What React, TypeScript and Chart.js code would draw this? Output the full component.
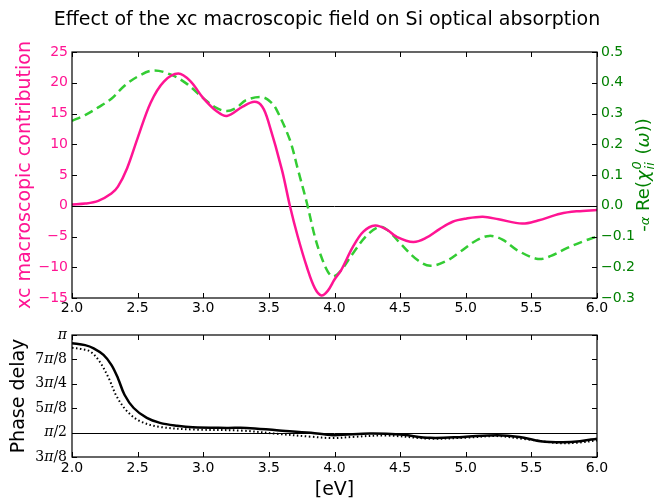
import React, { useEffect, useRef } from 'react';
import { Chart, registerables } from 'chart.js';

Chart.register(...registerables);

// ---------- data ----------
const xcEnergy = [2.0, 2.1, 2.2, 2.3, 2.35, 2.42, 2.5, 2.6, 2.7, 2.81, 2.9, 3.0, 3.1, 3.18, 3.3, 3.39, 3.45, 3.5, 3.6, 3.66, 3.72, 3.79, 3.85, 3.9, 3.95, 4.0, 4.05, 4.14, 4.22, 4.31, 4.4, 4.47, 4.6, 4.7, 4.8, 4.9, 5.0, 5.13, 5.25, 5.43, 5.55, 5.72, 5.85, 6.0];
const xcContribution = [0.2, 0.35, 0.8, 2.0, 3.1, 6.1, 11.0, 16.8, 20.2, 21.5, 20.3, 17.5, 15.4, 14.6, 16.1, 16.9, 16.1, 13.4, 5.8, 0.0, -5.0, -10.0, -13.4, -14.6, -13.8, -12.0, -10.5, -6.7, -4.2, -3.2, -3.9, -5.0, -5.9, -5.2, -3.8, -2.6, -2.1, -1.8, -2.2, -2.9, -2.4, -1.3, -0.9, -0.7];

const chiEnergy = [2.0, 2.1, 2.2, 2.3, 2.4, 2.5, 2.62, 2.75, 2.87, 3.0, 3.1, 3.18, 3.25, 3.33, 3.45, 3.52, 3.56, 3.66, 3.72, 3.79, 3.85, 3.89, 3.95, 3.99, 4.05, 4.14, 4.25, 4.35, 4.42, 4.5, 4.63, 4.73, 4.85, 4.96, 5.08, 5.18, 5.28, 5.39, 5.55, 5.65, 5.77, 5.9, 6.0];
const chiReal = [0.276, 0.295, 0.32, 0.348, 0.39, 0.42, 0.44, 0.427, 0.398, 0.35, 0.318, 0.308, 0.318, 0.344, 0.353, 0.335, 0.311, 0.214, 0.12, 0.008, -0.1, -0.155, -0.215, -0.23, -0.21, -0.155, -0.095, -0.068, -0.085, -0.122, -0.176, -0.195, -0.18, -0.149, -0.113, -0.098, -0.11, -0.144, -0.173, -0.163, -0.138, -0.115, -0.1];

// phase delay in units of pi
const phaseEnergy = [2.0, 2.1, 2.165, 2.24, 2.3, 2.35, 2.4, 2.47, 2.57, 2.67, 2.8, 2.92, 3.18, 3.33, 3.56, 3.82, 3.99, 4.27, 4.5, 4.73, 4.98, 5.24, 5.41, 5.57, 5.74, 5.87, 6.0];
const phaseSolid = [0.958, 0.948, 0.932, 0.898, 0.847, 0.779, 0.694, 0.626, 0.575, 0.55, 0.535, 0.527, 0.524, 0.524, 0.512, 0.499, 0.487, 0.495, 0.49, 0.473, 0.478, 0.487, 0.478, 0.456, 0.451, 0.456, 0.469];
const phaseDotEnergy = [2.0, 2.07, 2.14, 2.21, 2.28, 2.34, 2.42, 2.52, 2.67, 2.92, 3.3, 3.56, 3.82, 3.98, 4.14, 4.4, 4.73, 5.0, 5.24, 5.46, 5.71, 5.85, 6.0];
const phaseDotted = [0.935, 0.928, 0.915, 0.864, 0.779, 0.686, 0.609, 0.558, 0.529, 0.516, 0.51, 0.494, 0.479, 0.472, 0.478, 0.485, 0.469, 0.474, 0.482, 0.466, 0.446, 0.448, 0.46];

const xTickStep = 0.5;
const piTickLabels: Record<number, [string, string, string]> = {
  3: ['3', 'π', '/8'],
  4: ['', 'π', '/2'],
  5: ['5', 'π', '/8'],
  6: ['3', 'π', '/4'],
  7: ['7', 'π', '/8'],
  8: ['', 'π', ''],
};

const PINK = '#ff1493';
const LIME = '#33cc33';
const GREEN = '#008000';
const SANS = 'DejaVu Sans';
const TENSION = 0.35;

const fmt1 = (v: number) => {
  if (Math.abs(v) < 1e-9) return '0.0';
  return v.toFixed(1).replace('-', '\u2212');
};
const fmt0 = (v: number) => {
  if (Math.abs(v) < 1e-9) return '0';
  return String(Math.round(v)).replace('-', '\u2212');
};

function drawFrameAndTicks(chart: any, yLeftId: string, yRightId: string | null) {
  const ctx = chart.ctx;
  const { left, right, top, bottom } = chart.chartArea;
  const tl = 5;
  ctx.save();
  ctx.strokeStyle = '#000';
  ctx.lineWidth = 1;
  ctx.beginPath();
  const xs = chart.scales.x;
  xs.ticks.forEach((t: any) => {
    const px = Math.round(xs.getPixelForValue(t.value)) + 0.5;
    ctx.moveTo(px, bottom);
    ctx.lineTo(px, bottom - tl);
    ctx.moveTo(px, top);
    ctx.lineTo(px, top + tl);
  });
  const yl = chart.scales[yLeftId];
  yl.ticks.forEach((t: any) => {
    const py = Math.round(yl.getPixelForValue(t.value)) + 0.5;
    ctx.moveTo(left, py);
    ctx.lineTo(left + tl, py);
    if (!yRightId) {
      ctx.moveTo(right, py);
      ctx.lineTo(right - tl, py);
    }
  });
  if (yRightId) {
    const yr = chart.scales[yRightId];
    yr.ticks.forEach((t: any) => {
      const py = Math.round(yr.getPixelForValue(t.value)) + 0.5;
      ctx.moveTo(right, py);
      ctx.lineTo(right - tl, py);
    });
  }
  ctx.stroke();
  ctx.lineWidth = 1.2;
  ctx.strokeRect(left, top, right - left, bottom - top);
  ctx.restore();
}

const topPlugin = {
  id: 'topDecor',
  beforeDatasetsDraw(chart: any) {
    const ctx = chart.ctx;
    const { left, right } = chart.chartArea;
    const py = Math.round(chart.scales.y.getPixelForValue(0)) + 0.5;
    ctx.save();
    ctx.strokeStyle = '#000';
    ctx.lineWidth = 1;
    ctx.beginPath();
    ctx.moveTo(left, py);
    ctx.lineTo(right, py);
    ctx.stroke();
    ctx.restore();
  },
  afterDraw(chart: any) {
    drawFrameAndTicks(chart, 'y', 'y2');
    const ctx = chart.ctx;
    const { top, bottom } = chart.chartArea;
    const midY = (top + bottom) / 2;
    ctx.save();
    // main title
    ctx.fillStyle = '#000';
    ctx.font = `19px "${SANS}"`;
    ctx.textAlign = 'center';
    ctx.textBaseline = 'alphabetic';
    ctx.fillText('Effect of the xc macroscopic field on Si optical absorption', 327, 25);
    // left title
    ctx.save();
    ctx.translate(25, midY);
    ctx.rotate(-Math.PI / 2);
    ctx.fillStyle = PINK;
    ctx.font = `19px "${SANS}"`;
    ctx.textAlign = 'center';
    ctx.textBaseline = 'middle';
    ctx.fillText('xc macroscopic contribution', 0, 0);
    ctx.restore();
    // right title with math
    ctx.save();
    ctx.translate(649, midY);
    ctx.rotate(-Math.PI / 2);
    ctx.fillStyle = GREEN;
    ctx.textBaseline = 'alphabetic';
    ctx.textAlign = 'left';
    const fs = 18;
    const normal = `${fs}px "${SANS}"`;
    const ital = `italic ${fs}px "${SANS}"`;
    const small = `${Math.round(fs * 0.7)}px "${SANS}"`;
    const smallIt = `italic ${Math.round(fs * 0.7)}px "${SANS}"`;
    type Part = { t: string; f: string; dy?: number; stackSub?: string };
    const parts: Part[] = [
      { t: '-', f: normal },
      { t: 'α', f: smallIt },
      { t: ' Re(', f: normal },
      { t: 'χ', f: ital },
      { t: '0', f: smallIt, dy: -8, stackSub: 'ii' },
      { t: ' (', f: normal },
      { t: 'ω', f: ital },
      { t: '))', f: normal },
    ];
    let total = 0;
    const widths: number[] = [];
    parts.forEach((p) => {
      ctx.font = p.f;
      let w = ctx.measureText(p.t).width;
      if (p.stackSub) {
        ctx.font = smallIt;
        w = Math.max(w, ctx.measureText(p.stackSub).width);
      }
      widths.push(w + (p.stackSub ? 2 : 0));
      total += widths[widths.length - 1];
    });
    let x = -total / 2;
    const base = 0;
    parts.forEach((p, i) => {
      ctx.font = p.f;
      ctx.fillText(p.t, x + (p.stackSub ? 1 : 0), base + (p.dy || 0));
      if (p.stackSub) {
        ctx.font = smallIt;
        ctx.fillText(p.stackSub, x + 1, base + 5);
      }
      x += widths[i];
    });
    ctx.restore();
    ctx.restore();
  },
};

const bottomPlugin = {
  id: 'bottomDecor',
  beforeDatasetsDraw(chart: any) {
    const ctx = chart.ctx;
    const { left, right } = chart.chartArea;
    const py = Math.round(chart.scales.y.getPixelForValue(0.5)) + 0.5;
    ctx.save();
    ctx.strokeStyle = '#000';
    ctx.lineWidth = 1;
    ctx.beginPath();
    ctx.moveTo(left, py);
    ctx.lineTo(right, py);
    ctx.stroke();
    ctx.restore();
  },
  afterDraw(chart: any) {
    drawFrameAndTicks(chart, 'y', null);
    const ctx = chart.ctx;
    const { left, right, top, bottom } = chart.chartArea;
    const ys = chart.scales.y;
    ctx.save();
    ctx.fillStyle = '#000';
    ctx.textBaseline = 'middle';
    ctx.textAlign = 'left';
    const up = `14px "DejaVu Serif"`;
    const it = `italic 14px "DejaVu Serif"`;
    ys.ticks.forEach((t: any) => {
      const n = Math.round(t.value * 8);
      const lab = piTickLabels[n];
      if (!lab) return;
      const py = ys.getPixelForValue(t.value);
      ctx.font = up;
      const w0 = ctx.measureText(lab[0]).width;
      const w2 = ctx.measureText(lab[2]).width;
      ctx.font = it;
      const w1 = ctx.measureText(lab[1]).width;
      let x = left - 5 - (w0 + w1 + w2);
      ctx.font = up;
      ctx.fillText(lab[0], x, py);
      x += w0;
      ctx.font = it;
      ctx.fillText(lab[1], x, py);
      x += w1;
      ctx.font = up;
      ctx.fillText(lab[2], x, py);
    });
    // Phase delay
    ctx.save();
    ctx.translate(19, (top + bottom) / 2);
    ctx.rotate(-Math.PI / 2);
    ctx.font = `19px "${SANS}"`;
    ctx.textAlign = 'center';
    ctx.textBaseline = 'middle';
    ctx.fillText('Phase delay', 0, 0);
    ctx.restore();
    // [eV]
    ctx.font = `19px "${SANS}"`;
    ctx.textAlign = 'center';
    ctx.textBaseline = 'middle';
    ctx.fillText('[eV]', (left + right) / 2, bottom + 33);
    ctx.restore();
  },
};

const xAxisCommon = (padding: number, height: number) => ({
  type: 'linear' as const,
  min: 2,
  max: 6,
  ticks: {
    stepSize: xTickStep,
    callback: (v: any) => fmt1(Number(v)),
    color: '#000',
    font: { family: SANS, size: 14 },
    padding,
    maxRotation: 0,
    autoSkip: false,
  },
  grid: { display: false, drawTicks: false },
  border: { display: false },
  afterFit: (s: any) => {
    s.height = height;
  },
});

export default function App() {
  const topRef = useRef<HTMLCanvasElement | null>(null);
  const botRef = useRef<HTMLCanvasElement | null>(null);

  useEffect(() => {
    if (!topRef.current || !botRef.current) return;
    const topChart = new Chart(topRef.current, {
      type: 'line',
      data: {
        datasets: [
          {
            label: 'xc macroscopic contribution',
            data: xcEnergy.map((x, i) => ({ x, y: xcContribution[i] })),
            yAxisID: 'y',
            borderColor: PINK,
            borderWidth: 2.5,
            pointRadius: 0,
            tension: TENSION,
            fill: false,
          },
          {
            label: '-α Re(χ)',
            data: chiEnergy.map((x, i) => ({ x, y: chiReal[i] })),
            yAxisID: 'y2',
            borderColor: LIME,
            borderWidth: 2.5,
            borderDash: [9, 5],
            pointRadius: 0,
            tension: TENSION,
            fill: false,
          },
        ],
      },
      options: {
        responsive: false,
        animation: false,
        events: [],
        layout: { padding: { left: 0, right: 0, top: 52, bottom: 0 } },
        plugins: { legend: { display: false }, tooltip: { enabled: false } },
        scales: {
          x: xAxisCommon(2, 22) as any,
          y: {
            type: 'linear',
            position: 'left',
            min: -15,
            max: 25,
            ticks: {
              stepSize: 5,
              callback: (v: any) => fmt0(Number(v)),
              color: PINK,
              font: { family: SANS, size: 14 },
              padding: 4,
            },
            grid: { display: false, drawTicks: false },
            border: { display: false },
            afterFit: (s: any) => {
              s.width = 72;
            },
          },
          y2: {
            type: 'linear',
            position: 'right',
            min: -0.3,
            max: 0.5,
            ticks: {
              stepSize: 0.1,
              callback: (v: any) => fmt1(Number(v)),
              color: GREEN,
              font: { family: SANS, size: 14 },
              padding: 4,
            },
            grid: { display: false, drawTicks: false },
            border: { display: false },
            afterFit: (s: any) => {
              s.width = 57;
            },
          },
        },
      },
      plugins: [topPlugin],
    });

    const botChart = new Chart(botRef.current, {
      type: 'line',
      data: {
        datasets: [
          {
            label: 'phase',
            data: phaseEnergy.map((x, i) => ({ x, y: phaseSolid[i] })),
            borderColor: '#000',
            borderWidth: 2.5,
            pointRadius: 0,
            tension: TENSION,
            fill: false,
          },
          {
            label: 'phase dotted',
            data: phaseDotEnergy.map((x, i) => ({ x, y: phaseDotted[i] })),
            borderColor: '#000',
            borderWidth: 2,
            borderDash: [1.5, 2.5],
            pointRadius: 0,
            tension: TENSION,
            fill: false,
          },
        ],
      },
      options: {
        responsive: false,
        animation: false,
        events: [],
        layout: { padding: { left: 0, right: 57, top: 15, bottom: 0 } },
        plugins: { legend: { display: false }, tooltip: { enabled: false } },
        scales: {
          x: xAxisCommon(3, 43) as any,
          y: {
            type: 'linear',
            position: 'left',
            min: 0.375,
            max: 1,
            ticks: { stepSize: 0.125, display: false },
            grid: { display: false, drawTicks: false },
            border: { display: false },
            afterFit: (s: any) => {
              s.width = 72;
            },
          },
        },
      },
      plugins: [bottomPlugin],
    });

    return () => {
      topChart.destroy();
      botChart.destroy();
    };
  }, []);

  return (
    <div style={{ position: 'fixed', left: 0, top: 0, width: 654, height: 500, background: '#fff' }}>
      <canvas ref={topRef} width={654} height={320} style={{ position: 'absolute', left: 0, top: 0, width: 654, height: 320 }} />
      <canvas ref={botRef} width={654} height={180} style={{ position: 'absolute', left: 0, top: 320, width: 654, height: 180 }} />
    </div>
  );
}
